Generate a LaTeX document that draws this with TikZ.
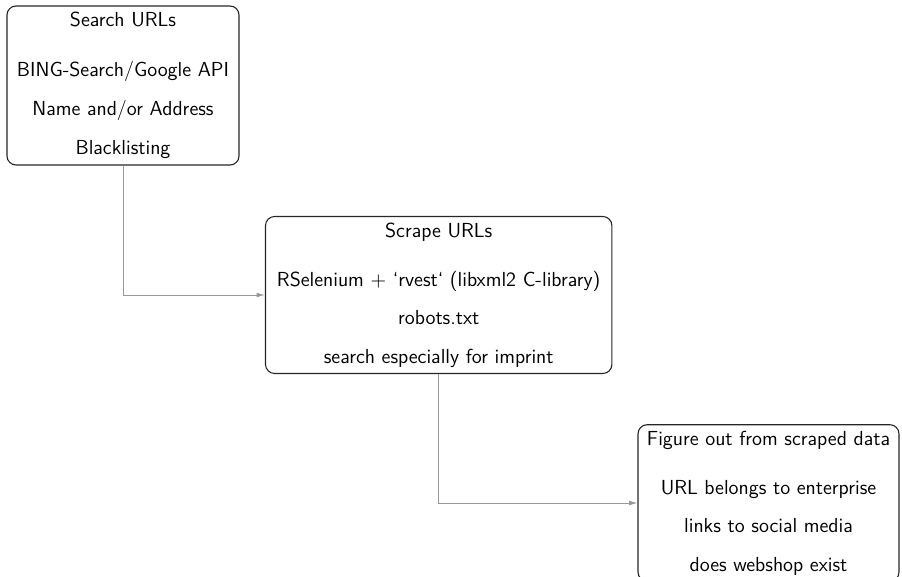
\documentclass[tikz,border=0pt]{standalone}
\usepackage{fontspec}
\usetikzlibrary{arrows.meta}
\begin{document}
\begin{tikzpicture}[x=0.5464pt,y=-0.5464pt,
  stagebox/.style={draw=black!85, line width=0.6pt, rounded corners=5pt, align=center,
    font=\sffamily\fontsize{11.1}{13.5}\selectfont, inner sep=3.3pt, minimum height=84pt},
  flow/.style={draw=black!40, line width=0.5pt, -{Latex[length=4.5pt,width=2.6pt]}}]
\useasboundingbox (0,0) rectangle (902,576);
\node[stagebox, minimum width=126.8pt, minimum height=86.9pt] (search) at (123,85.5)
  {Search URLs\\[13.5pt]BING-Search/Google API\\[8pt]Name and/or Address\\[8pt]Blacklisting};
\node[stagebox, minimum width=189.3pt] (scrape) at (438.7,295)
  {Scrape URLs\\[13.5pt]RSelenium $+$ `rvest` (libxml2 C-library)\\[7.5pt]robots.txt\\[7.5pt]search especially for imprint};
\node[stagebox, minimum width=142.6pt] (figure) at (768.5,503)
  {Figure out from scraped data\\[13.5pt]URL belongs to enterprise\\[7.5pt]links to social media\\[7.5pt]does webshop exist};
\draw[flow] (search.south) |- (scrape.west);
\draw[flow] (scrape.south) |- (figure.west);
\end{tikzpicture}
\end{document}
